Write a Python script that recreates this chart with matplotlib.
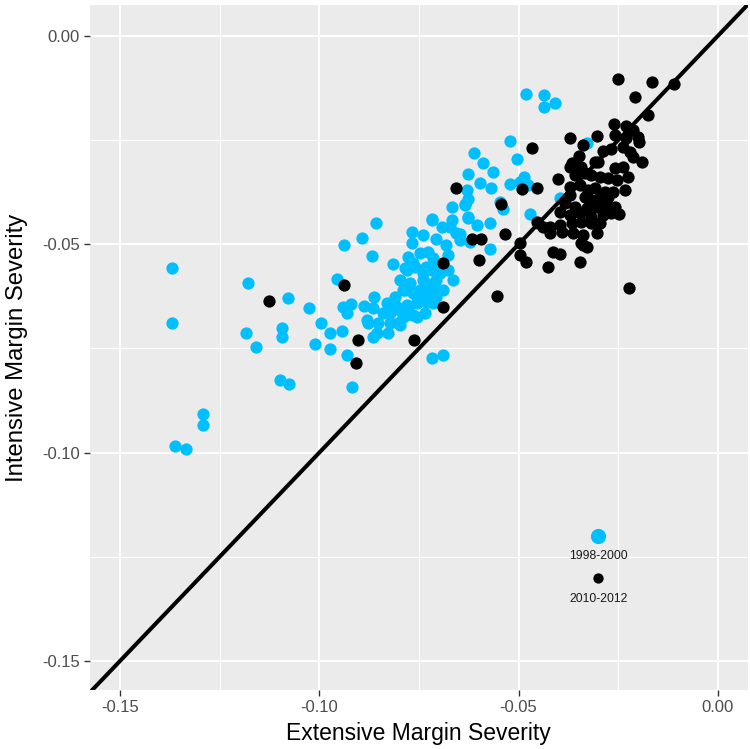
import matplotlib
matplotlib.use("Agg")
import matplotlib.pyplot as plt
import numpy as np

plt.rcParams['font.family'] = ['Liberation Sans', 'DejaVu Sans']

# 1998-2000 (blue)
blue_x = [-0.137, -0.137, -0.1179, -0.1184, -0.1159, -0.1094, -0.1094, -0.1079, -0.1099, -0.1076,
          -0.1292, -0.1292, -0.1362, -0.1335, -0.1025, -0.0858, -0.0894, -0.0937, -0.0869, -0.0816,
          -0.0955, -0.0995, -0.0972, -0.0943, -0.1011, -0.0972, -0.0930, -0.0917, -0.0718, -0.0689,
          -0.0941, -0.0931, -0.0921, -0.0889, -0.0864, -0.0862, -0.0878, -0.0864, -0.0856, -0.0827,
          -0.0840, -0.0823, -0.0810, -0.0814, -0.0798, -0.0777, -0.0756, -0.0735, -0.0803, -0.0782,
          -0.0714, -0.0706, -0.0798, -0.0785, -0.0777, -0.0764, -0.0785, -0.0768, -0.0739, -0.0768,
          -0.0718, -0.0668, -0.0635, -0.0626, -0.0605, -0.0693, -0.0668, -0.0706, -0.0681, -0.0656,
          -0.0647, -0.0677, -0.0664, -0.0748, -0.0731, -0.0714, -0.0697, -0.0739, -0.0748, -0.0731,
          -0.0714, -0.0689, -0.0756, -0.0722, -0.0622, -0.0727, -0.0714, -0.0781, -0.0760, -0.0739,
          -0.0718, -0.0677, -0.0773, -0.0731, -0.0706, -0.0789, -0.0764, -0.0739, -0.0710, -0.0831,
          -0.0806, -0.0781, -0.0756, -0.0731, -0.0789, -0.0764, -0.0881, -0.0852, -0.0823, -0.0798,
          -0.0482, -0.0436, -0.0436, -0.0408, -0.0522, -0.0612, -0.0504, -0.0589, -0.0564, -0.0626,
          -0.0597, -0.0570, -0.0522, -0.0487, -0.0497, -0.0476, -0.0629, -0.0626, -0.0635, -0.0547,
          -0.0539, -0.0472, -0.0626, -0.0572, -0.0716, -0.0672, -0.0647, -0.0572, -0.0396, -0.0329]
blue_y = [-0.0557, -0.0689, -0.0593, -0.0713, -0.0746, -0.0701, -0.0723, -0.0629, -0.0826, -0.0835,
          -0.0907, -0.0934, -0.0984, -0.0991, -0.0653, -0.0448, -0.0484, -0.0502, -0.0528, -0.0548,
          -0.0584, -0.0688, -0.0712, -0.0707, -0.0740, -0.0752, -0.0766, -0.0843, -0.0774, -0.0766,
          -0.0651, -0.0666, -0.0643, -0.0648, -0.0654, -0.0626, -0.0688, -0.0722, -0.0714, -0.0712,
          -0.0666, -0.0666, -0.0626, -0.0646, -0.0658, -0.0658, -0.0674, -0.0666, -0.0690, -0.0670,
          -0.0642, -0.0626, -0.0586, -0.0610, -0.0530, -0.0546, -0.0558, -0.0470, -0.0478, -0.0498,
          -0.0442, -0.0411, -0.0406, -0.0438, -0.0454, -0.0458, -0.0442, -0.0488, -0.0502, -0.0474,
          -0.0490, -0.0526, -0.0586, -0.0522, -0.0554, -0.0554, -0.0570, -0.0586, -0.0610, -0.0618,
          -0.0602, -0.0610, -0.0626, -0.0634, -0.0494, -0.0518, -0.0534, -0.0562, -0.0554, -0.0570,
          -0.0562, -0.0562, -0.0594, -0.0594, -0.0586, -0.0610, -0.0618, -0.0614, -0.0610, -0.0642,
          -0.0650, -0.0646, -0.0642, -0.0638, -0.0674, -0.0670, -0.0682, -0.0690, -0.0690, -0.0694,
          -0.0139, -0.0142, -0.0170, -0.0160, -0.0252, -0.0282, -0.0295, -0.0306, -0.0326, -0.0331,
          -0.0354, -0.0364, -0.0355, -0.0338, -0.0350, -0.0358, -0.0370, -0.0392, -0.0403, -0.0398,
          -0.0416, -0.0427, -0.0435, -0.0448, -0.0440, -0.0458, -0.0475, -0.0512, -0.0390, -0.0258]

# 2010-2012 (black)
black_x = [-0.1126, -0.0937, -0.0904, -0.0909, -0.0763, -0.0689, -0.0689, -0.0656, -0.0544, -0.0492,
           -0.0453, -0.0466, -0.0371, -0.0401, -0.0616, -0.0595, -0.0533, -0.0497, -0.0600, -0.0497,
           -0.0480, -0.0426, -0.0413, -0.0396, -0.0453, -0.0438, -0.0421, -0.0553, -0.0346, -0.0338,
           -0.0250, -0.0166, -0.0110, -0.0208, -0.0175, -0.0260, -0.0231, -0.0212, -0.0200, -0.0197,
           -0.0258, -0.0231, -0.0238, -0.0221, -0.0212, -0.0191, -0.0302, -0.0338, -0.0288, -0.0267,
           -0.0348, -0.0300, -0.0371, -0.0359, -0.0258, -0.0238, -0.0225, -0.0233, -0.0359, -0.0334,
           -0.0317, -0.0296, -0.0275, -0.0254, -0.0371, -0.0346, -0.0325, -0.0309, -0.0283, -0.0263,
           -0.0371, -0.0334, -0.0317, -0.0296, -0.0275, -0.0384, -0.0359, -0.0329, -0.0304, -0.0279,
           -0.0258, -0.0396, -0.0371, -0.0346, -0.0317, -0.0288, -0.0267, -0.0248, -0.0451, -0.0421,
           -0.0396, -0.0367, -0.0342, -0.0317, -0.0296, -0.0392, -0.0363, -0.0338, -0.0304, -0.0342,
           -0.0329, -0.0367, -0.0342, -0.0309, -0.0223]
black_y = [-0.0636, -0.0598, -0.0730, -0.0786, -0.0730, -0.0650, -0.0546, -0.0366, -0.0403, -0.0368,
           -0.0366, -0.0268, -0.0246, -0.0343, -0.0487, -0.0488, -0.0475, -0.0496, -0.0538, -0.0526,
           -0.0542, -0.0555, -0.0518, -0.0523, -0.0446, -0.0458, -0.0474, -0.0623, -0.0543, -0.0502,
           -0.0104, -0.0110, -0.0115, -0.0147, -0.0190, -0.0211, -0.0216, -0.0226, -0.0242, -0.0254,
           -0.0238, -0.0246, -0.0266, -0.0278, -0.0290, -0.0302, -0.0240, -0.0262, -0.0275, -0.0272,
           -0.0288, -0.0302, -0.0314, -0.0304, -0.0318, -0.0314, -0.0338, -0.0370, -0.0334, -0.0330,
           -0.0334, -0.0338, -0.0342, -0.0346, -0.0362, -0.0358, -0.0370, -0.0366, -0.0374, -0.0374,
           -0.0382, -0.0386, -0.0394, -0.0387, -0.0387, -0.0402, -0.0410, -0.0414, -0.0410, -0.0406,
           -0.0410, -0.0422, -0.0430, -0.0426, -0.0434, -0.0430, -0.0426, -0.0427, -0.0450, -0.0458,
           -0.0454, -0.0450, -0.0446, -0.0450, -0.0450, -0.0470, -0.0474, -0.0478, -0.0474, -0.0498,
           -0.0506, -0.0306, -0.0314, -0.0302, -0.0605]

legend_labels = ["1998-2000", "2010-2012"]
legend_x = [-0.030, -0.030]
legend_y = [-0.120, -0.130]
legend_text_y = [-0.1248, -0.1351]

ticks = [-0.15, -0.10, -0.05, 0.00]
tick_labels = ["-0.15", "-0.10", "-0.05", "0.00"]
minor_ticks = [-0.125, -0.075, -0.025]

BLUE = "#00BFFF"
fig = plt.figure(figsize=(7.5, 7.49), dpi=100)
ax = fig.add_axes([0.12, 0.0788, 0.877, 0.9145])
ax.set_facecolor("#EBEBEB")
for s in ax.spines.values():
    s.set_visible(False)

ax.set_xlim(-0.15755, 0.00753)
ax.set_ylim(-0.15698, 0.00744)
ax.set_xticks(ticks)
ax.set_xticklabels(tick_labels)
ax.set_yticks(ticks)
ax.set_yticklabels(tick_labels)
ax.set_xticks(minor_ticks, minor=True)
ax.set_yticks(minor_ticks, minor=True)
ax.grid(True, which="major", color="white", linewidth=1.4)
ax.grid(True, which="minor", color="white", linewidth=0.7)
ax.set_axisbelow(True)
ax.tick_params(which="major", length=4, width=1, color="#333333", labelcolor="#4D4D4D", labelsize=12)
ax.tick_params(which="minor", length=0)

ax.scatter(blue_x, blue_y, s=78, color=BLUE, linewidths=0, zorder=3)
ax.scatter(black_x, black_y, s=78, color="black", linewidths=0, zorder=4)
ax.axline((0, 0), slope=1, color="black", linewidth=2.9, zorder=5)

ax.scatter([legend_x[0]], [legend_y[0]], s=120, color=BLUE, linewidths=0, zorder=6)
ax.scatter([legend_x[1]], [legend_y[1]], s=55, color="black", linewidths=0, zorder=6)
for lx, ly, lab in zip(legend_x, legend_text_y, legend_labels):
    ax.text(lx, ly, lab, ha="center", va="center", fontsize=8.7, color="#1A1A1A", zorder=6)

ax.set_xlabel("Extensive Margin Severity", fontsize=16.5, labelpad=5)
ax.set_ylabel("Intensive Margin Severity", fontsize=17.2, labelpad=10)

fig.savefig("out.png", dpi=100)
